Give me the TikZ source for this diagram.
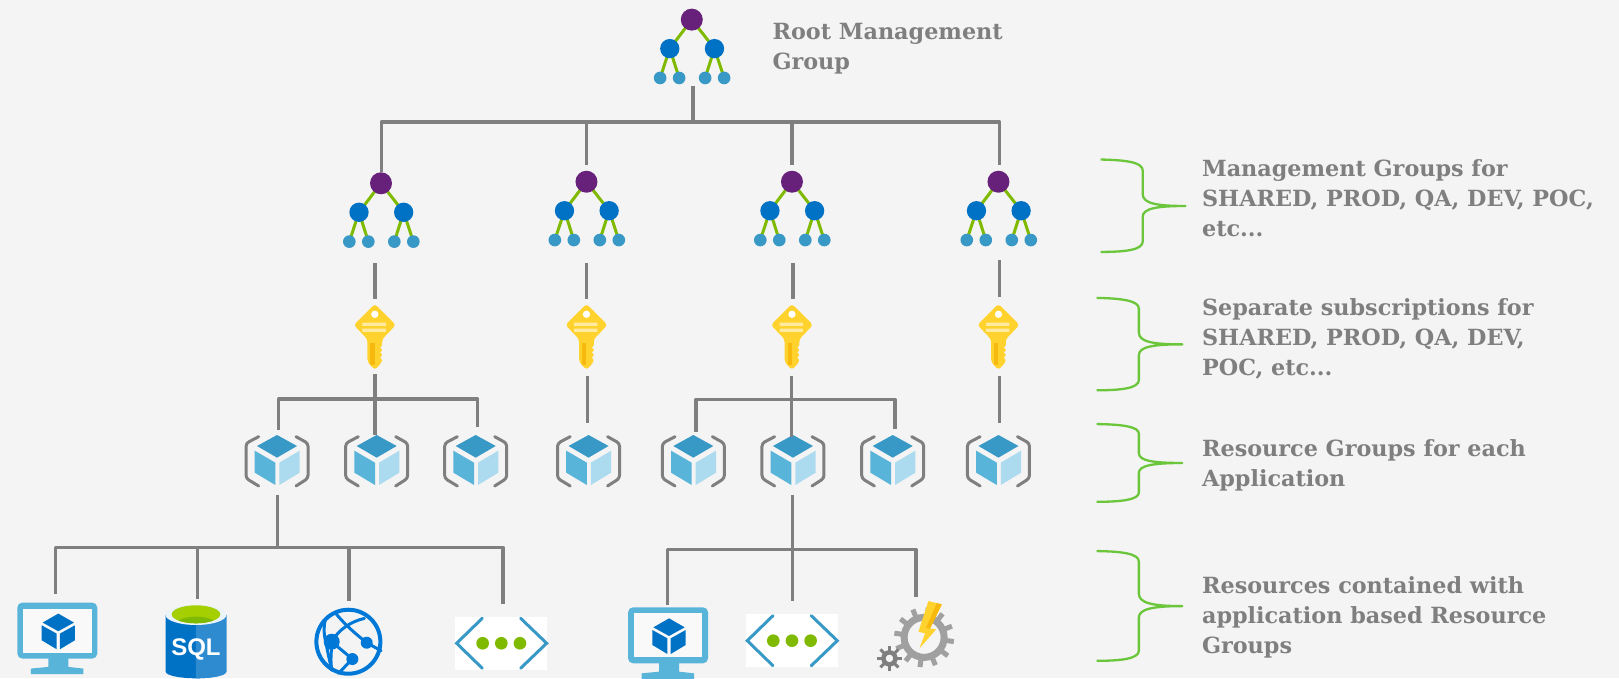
\documentclass[tikz,border=0pt]{standalone}
\usepackage{fontspec}
\setmainfont{DejaVu Serif}
\newfontfamily\sqlfont{Liberation Sans}
\definecolor{bg}{HTML}{F4F4F4}
\definecolor{conngray}{HTML}{7F7F7F}
\definecolor{brcgreen}{HTML}{6CC63C}
\definecolor{leafgreen}{HTML}{7FBA00}
\definecolor{mgpurple}{HTML}{68217A}
\definecolor{azblue}{HTML}{0072C6}
\definecolor{webblue}{HTML}{0078D7}
\definecolor{azmid}{HTML}{3999C6}
\definecolor{azlight}{HTML}{59B4D9}
\definecolor{azpale}{HTML}{ACDAEE}
\definecolor{keyyel}{HTML}{FFD22E}
\definecolor{keydark}{HTML}{F8B90F}
\definecolor{geargray}{HTML}{A0A0A0}
\tikzset{
  conn/.style={draw=conngray,line width=3.4pt,line cap=butt,line join=round},
  brc/.style={draw=brcgreen,line width=2.3pt,line join=round},
  lbl/.style={text=conngray,inner sep=0pt,anchor=west,align=left,font=\fontsize{22.3}{29.9}\selectfont\bfseries},
  mgroup/.pic={
    \begin{scope}[scale=0.3228]
    \draw[leafgreen,line width=3pt] (0,0)--(-66,87) (0,0)--(68,87)
      (-66,87)--(-95,175) (-66,87)--(-38,175) (68,87)--(40,175) (68,87)--(97,175);
    \fill[mgpurple] (0,0) circle (33);
    \fill[azblue] (-66,87) circle (29) (68,87) circle (29);
    \fill[azmid] (-95,175) circle (19) (-38,175) circle (19) (40,175) circle (19) (97,175) circle (19);
    \end{scope}},
  keyicon/.pic={
    \begin{scope}[scale=0.3228]
    \fill[keyyel,rounded corners=3pt] (0,-98)--(63,-35)--(22,8)--(22,76)--(0,100)--(-22,76)--(-22,8)--(-63,-35)--cycle;
    \fill[keydark] (-13,18) rectangle (0,85);
    \fill[bg] (23,25)--(17,33)--(23,40)--(17,48)--(23,55)--(17,63)--(23,72)--(30,50)--cycle;
    \fill[white] (0,-67) circle (11);
    \fill[white,opacity=.55] (-37,-42) rectangle (33,-32) (-37,-24) rectangle (33,-14);
    \end{scope}},
  cubeicon/.pic={
    \begin{scope}[scale=0.3228]
    \draw[conngray,line width=3pt,line cap=round,rounded corners=3pt] (-55,-70)--(-93,-50)--(-93,55)--(-55,78);
    \draw[conngray,line width=3pt,line cap=round,rounded corners=3pt] (57,-70)--(93,-50)--(93,55)--(57,78);
    \fill[azmid] (0,-75)--(60,-42)--(0,-7)--(-60,-42)--cycle;
    \fill[azlight] (-67,-28)--(-5,8)--(-5,75)--(-67,38)--cycle;
    \fill[azpale] (7,8)--(68,-28)--(68,38)--(7,75)--cycle;
    \end{scope}},
  vmicon/.pic={
    \begin{scope}[scale=0.3228]
    \fill[azlight,rounded corners=5pt] (-120,-88) rectangle (120,80);
    \fill[azlight] (-27,75)--(33,75)--(33,105)--(78,110)--(78,127)--(-79,127)--(-79,110)--(-27,105)--cycle;
    \fill[bg!50!white] (-102,-70) rectangle (103,62);
    \fill[azblue] (3,-55)--(50,-28)--(3,-2)--(-44,-28)--cycle;
    \fill[azblue] (-47,-20)--(-2,5)--(-2,52)--(-47,25)--cycle;
    \fill[azblue] (8,5)--(53,-20)--(53,25)--(8,52)--cycle;
    \end{scope}},
  sqlicon/.pic={
    \begin{scope}[scale=0.3228]
    \path[fill=azblue] (-91,0)--(-91,170) arc[start angle=180,end angle=0,x radius=91,y radius=20]--(91,0)--cycle;
    \path[fill=azblue!82!white] (0,0)--(0,190) arc[start angle=90,end angle=0,x radius=91,y radius=20]--(91,0)--cycle;
    \fill[white!92!azblue] (0,0) ellipse (91 and 30);
    \fill[leafgreen!70!yellow] (0,-2) ellipse (73 and 27);
    \begin{scope}
      \clip (0,-2) ellipse (73 and 27);
      \fill[leafgreen] (0,27) ellipse (60 and 22);
    \end{scope}
    \node[text=white,inner sep=0pt,font=\sqlfont\fontsize{24}{24}\selectfont\bfseries] (sqltext) at (0,105) {SQL};
    \end{scope}},
  webicon/.pic={
    \begin{scope}[scale=0.3228,line cap=round]
    \draw[webblue,line width=4pt] (0,0) circle (96);
    \draw[webblue,line width=3pt] (-40,-88) .. controls (-15,-55) and (20,-25) .. (55,3) -- (98,27);
    \draw[webblue,line width=3pt] (-50,0) .. controls (-30,-35) and (5,-60) .. (48,-70);
    \draw[webblue,line width=3pt] (-50,0) -- (12,52);
    \draw[webblue,line width=3pt] (12,52) -- (-30,95);
    \draw[webblue,line width=3pt] (-70,-65) .. controls (-75,-35) and (-72,-15) .. (-68,0) .. controls (-62,30) and (-58,50) .. (-50,85);
    \draw[webblue,line width=3pt] (-50,0) .. controls (-50,30) and (-55,50) .. (-50,85);
    \fill[webblue] (55,3) circle (18) (12,52) circle (18) (-50,0) circle (24);
    \end{scope}},
  vneticon/.pic={
    \begin{scope}[scale=0.3228]
    \fill[white] (-138,-80) rectangle (138,80);
    \draw[azmid,line width=3pt,line cap=round,line join=miter] (-57,-75)--(-134,0)--(-57,75);
    \draw[azmid,line width=3pt,line cap=round,line join=miter] (58,-75)--(136,0)--(58,75);
    \fill[leafgreen] (-56,0) circle (19) (0,0) circle (19) (56,0) circle (19);
    \end{scope}},
  funcicon/.pic={
    \begin{scope}[scale=0.3228]
    \foreach \a in {0,30,...,330} {\draw[geargray,line width=5pt] (\a+8:60) -- (\a+8:90);}
    \draw[geargray,line width=7pt] (0,0) circle (60);
    \fill[bg] (0,0)--(-84:105)--(-64:105)--cycle;
    \fill[keyyel] (13,-109)--(53,-99)--(18,-27)--(36,-24)--(-14,33)--(3,-12)--(-17,-17)--cycle;
    \fill[keydark] (38,-103)--(53,-99)--(18,-27)--(6,-29)--cycle;
    \foreach \a in {0,45,...,315} {\draw[conngray,line width=3pt] ([shift={(-104,63)}]\a:20) -- ([shift={(-104,63)}]\a:38);}
    \draw[conngray,line width=4.4pt] (-104,63) circle (18);
    \end{scope}}
}
\begin{document}
\begin{tikzpicture}[x=1.0325pt,y=-1.0325pt]
\path[use as bounding box,fill=bg] (0,0) rectangle (1568,656.65);

% icons
\pic (mg0) at (670,19) {mgroup};
\pic (mg1) at (369,177.5) {mgroup};
\pic (mg2) at (568,176) {mgroup};
\pic (mg3) at (767,176) {mgroup};
\pic (mg4) at (967,176) {mgroup};
\pic (k1) at (363,326) {keyicon};
\pic (k2) at (568,326) {keyicon};
\pic (k3) at (767,326) {keyicon};
\pic (k4) at (967,326) {keyicon};
\pic (c1) at (268.3,445.5) {cubeicon};
\pic (c2) at (364.8,445.5) {cubeicon};
\pic (c3) at (460.7,445.5) {cubeicon};
\pic (c4) at (570,445.5) {cubeicon};
\pic (c5) at (671.5,445.5) {cubeicon};
\pic (c6) at (768,445.5) {cubeicon};
\pic (c7) at (864.6,445.5) {cubeicon};
\pic (c8) at (967,445.5) {cubeicon};
\pic (vm1) at (55.5,612) {vmicon};
\pic (vm2) at (647,616.6) {vmicon};
\pic (sql) at (189.8,595.6) {sqlicon};
\pic (web) at (337.4,621.5) {webicon};
\pic (vn1) at (485.5,623) {vneticon};
\pic (vn2) at (767,620.5) {vneticon};
\pic (fn) at (895,617.3) {funcicon};

% connector end points
\coordinate (r0) at (671,83); \coordinate (rj) at (671,118);
\coordinate (ra) at (369.5,118); \coordinate (rb) at (968,118);
\coordinate (m1t) at (369.5,167); \coordinate (m2j) at (568,118); \coordinate (m2t) at (568,160);
\coordinate (m3j) at (767,118); \coordinate (m3t) at (767,160); \coordinate (m4t) at (968,160);
\coordinate (s1a) at (363,255); \coordinate (s1b) at (363,290);
\coordinate (s2a) at (568,255); \coordinate (s2b) at (568,290);
\coordinate (s3a) at (768,255); \coordinate (s3b) at (768,290);
\coordinate (s4a) at (968,252); \coordinate (s4b) at (968,288);
\coordinate (d1a) at (363.2,362); \coordinate (d1b) at (363.2,421); \coordinate (d1j) at (363.2,386.6);
\coordinate (d1l) at (270,386.6); \coordinate (d1r) at (462.6,386.6);
\coordinate (d1lb) at (270,416.5); \coordinate (d1rb) at (462.6,414);
\coordinate (d2a) at (569,364); \coordinate (d2b) at (569,410);
\coordinate (d3a) at (766.8,364); \coordinate (d3b) at (766.8,423); \coordinate (d3j) at (766.8,386.8);
\coordinate (d3l) at (674,386.8); \coordinate (d3r) at (866.8,386.8);
\coordinate (d3lb) at (674,418); \coordinate (d3rb) at (866.8,415);
\coordinate (d4a) at (968,364); \coordinate (d4b) at (968,410);
\coordinate (e1a) at (269,479); \coordinate (e1j) at (269,530);
\coordinate (e1l) at (54,530); \coordinate (e1r) at (487,530);
\coordinate (e1lb) at (54,575); \coordinate (e1rb) at (487,585);
\coordinate (e2j) at (191,530); \coordinate (e2b) at (191,580);
\coordinate (e3j) at (338,530); \coordinate (e3b) at (338,582);
\coordinate (f1a) at (767.7,479.5); \coordinate (f1j) at (767.7,532);
\coordinate (f1l) at (646.4,532); \coordinate (f1r) at (887,532);
\coordinate (f1lb) at (646.4,586); \coordinate (f1rb) at (887,578);
\coordinate (f1b) at (767.7,582);

% connectors
\draw[conn] (r0)--(rj);
\draw[conn] (m1t)--(ra)--(rb)--(m4t);
\draw[conn] (m2j)--(m2t);
\draw[conn] (m3j)--(m3t);
\draw[conn] (s1a)--(s1b);
\draw[conn] (s2a)--(s2b);
\draw[conn] (s3a)--(s3b);
\draw[conn] (s4a)--(s4b);
\draw[conn] (d1a)--(d1b);
\draw[conn] (d1lb)--(d1l)--(d1r)--(d1rb);
\draw[conn] (d2a)--(d2b);
\draw[conn] (d3a)--(d3b);
\draw[conn] (d3lb)--(d3l)--(d3r)--(d3rb);
\draw[conn] (d4a)--(d4b);
\draw[conn] (e1a)--(e1j);
\draw[conn] (e1lb)--(e1l)--(e1r)--(e1rb);
\draw[conn] (e2j)--(e2b);
\draw[conn] (e3j)--(e3b);
\draw[conn] (f1a)--(f1b);
\draw[conn] (f1lb)--(f1l)--(f1r)--(f1rb);

% braces
\draw[brc] (1066,154.5) .. controls (1090,155) and (1106.7,157) .. (1106.7,165) -- (1106.7,188) .. controls (1106.7,197) and (1120,199.5) .. (1148,199.5) .. controls (1120,199.5) and (1106.7,202) .. (1106.7,210) -- (1106.7,234) .. controls (1106.7,242) and (1090,244) .. (1066,244);
\draw[brc] (1062,288.5) .. controls (1086,289) and (1103,291) .. (1103,299) -- (1103,322) .. controls (1103,331) and (1116,333.5) .. (1145,333.5) .. controls (1116,333.5) and (1103,336) .. (1103,344) -- (1103,368) .. controls (1103,376) and (1086,378) .. (1062,378);
\draw[brc] (1062,410.7) .. controls (1086,411) and (1103,413) .. (1103,420) -- (1103,439) .. controls (1103,446) and (1116,448.4) .. (1145,448.4) .. controls (1116,448.4) and (1103,451) .. (1103,458) -- (1103,477) .. controls (1103,484) and (1086,486) .. (1062,486);
\draw[brc] (1062,533.7) .. controls (1086,534) and (1103,536) .. (1103,544) -- (1103,575) .. controls (1103,584) and (1116,587) .. (1145,587) .. controls (1116,587) and (1103,590) .. (1103,598) -- (1103,630) .. controls (1103,638) and (1086,640) .. (1062,640);

% labels
\node[lbl] (t0) at (748,47.5) {Root Management\\Group};
\node[lbl] (t1) at (1164,192) {Management Groups for\\SHARED, PROD, QA, DEV, POC,\\etc...};
\node[lbl] (t2) at (1164,328) {Separate subscriptions for\\SHARED, PROD, QA, DEV,\\POC, etc...};
\node[lbl] (t3) at (1164,451) {Resource Groups for each\\Application};
\node[lbl] (t4) at (1164,598) {Resources contained with\\application based Resource\\Groups};
\end{tikzpicture}
\end{document}
